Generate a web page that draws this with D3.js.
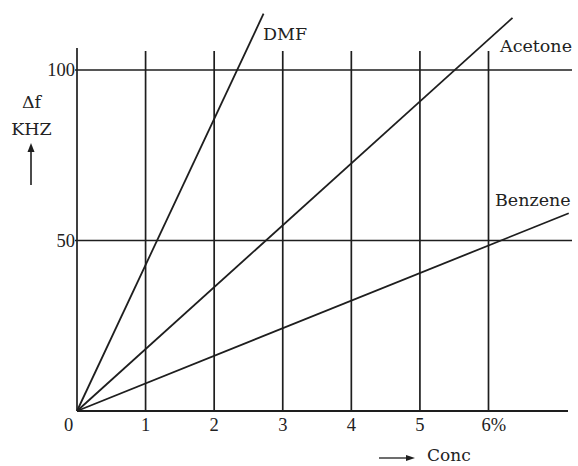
<!DOCTYPE html>
<html>
<head>
<meta charset="utf-8">
<script src="https://cdn.jsdelivr.net/npm/d3@7"></script>
<style>
  body { margin: 0; background: #fff; }
  svg text { font-family: "DejaVu Serif", "Liberation Serif", serif; fill: #222; }
  svg text.num { font-family: "Liberation Serif", "DejaVu Serif", serif; }
</style>
</head>
<body>
<svg id="chart" width="578" height="466"></svg>
<script>
// values
const concTicks = [0, 1, 2, 3, 4, 5, 6];
const concLabels = ['0', '1', '2', '3', '4', '5', '6%'];
const dfTicks = [50, 100];
const solvents = ['DMF', 'Acetone', 'Benzene'];
const dmf = [[0, 0], [2.72, 116.5]];
const acetone = [[0, 0], [6.35, 115.3]];
const benzene = [[0, 0], [7.17, 58]];

const svg = d3.select('#chart');

const x = d3.scaleLinear().domain([0, 6]).range([77, 488.5]);
const y = d3.scaleLinear().domain([0, 100]).range([411, 70]);

const g = svg.append('g');
const ink = '#1e1e1e';

// vertical grid lines (the y axis is the one at 0)
g.selectAll('.vgrid')
    .data(concTicks)
    .enter().append('line')
    .attr('class', 'vgrid')
    .attr('x1', d => x(d)).attr('x2', d => x(d))
    .attr('y1', d => d == 0 ? 48 : 51)
    .attr('y2', y(0))
    .attr('stroke', ink).attr('stroke-width', 1.7);

// horizontal lines at 50 and 100
g.selectAll('.hgrid')
    .data(dfTicks)
    .enter().append('line')
    .attr('class', 'hgrid')
    .attr('x1', x(0) - 2).attr('x2', 572)
    .attr('y1', d => y(d)).attr('y2', d => y(d))
    .attr('stroke', ink).attr('stroke-width', 1.7);

// x axis
g.append('line')
    .attr('x1', x(0)).attr('x2', 568)
    .attr('y1', y(0)).attr('y2', y(0))
    .attr('stroke', ink).attr('stroke-width', 1.9);

// x tick labels
g.selectAll('.xlab')
    .data(concTicks)
    .enter().append('text')
    .attr('class', 'num')
    .attr('x', (d, i) => i == 0 ? x(d) - 8.5 : (i == 6 ? x(d) - 7 : x(d)))
    .attr('y', 431)
    .attr('text-anchor', (d, i) => i == 6 ? 'start' : 'middle')
    .attr('font-size', 18.5)
    .text((d, i) => concLabels[i]);

// y tick labels
g.selectAll('.ylab')
    .data(dfTicks)
    .enter().append('text')
    .attr('class', 'num')
    .attr('x', x(0) - 2)
    .attr('y', d => y(d) + 6)
    .attr('text-anchor', 'end')
    .attr('font-size', 18.5)
    .text(d => d);

// series lines
const line = d3.line().x(d => x(d[0])).y(d => y(d[1]));
const series = [dmf, acetone, benzene];
g.selectAll('.series')
    .data(series)
    .enter().append('path')
    .attr('d', d => line(d))
    .attr('fill', 'none')
    .attr('stroke', ink)
    .attr('stroke-width', 1.8);

// series labels
const labelPos = [[263, 40], [500, 52], [495, 206]];
g.selectAll('.slab')
    .data(solvents)
    .enter().append('text')
    .attr('x', (d, i) => labelPos[i][0])
    .attr('y', (d, i) => labelPos[i][1])
    .attr('font-size', 17.5)
    .text(d => d);

// y axis title
g.append('text').attr('x', 31.5).attr('y', 108).attr('text-anchor', 'middle')
    .attr('font-size', 17.5).text('Δf');
g.append('text').attr('x', 31.5).attr('y', 135).attr('text-anchor', 'middle')
    .attr('font-size', 17.5).text('KHZ');
g.append('line').attr('x1', 31).attr('x2', 31).attr('y1', 185).attr('y2', 150)
    .attr('stroke', ink).attr('stroke-width', 1.6);
g.append('path').attr('d', 'M27.5,152 L31,143 L34.5,152 Z').attr('fill', ink);

// x axis title
g.append('line').attr('x1', 379).attr('x2', 410).attr('y1', 458).attr('y2', 458)
    .attr('stroke', ink).attr('stroke-width', 1.3);
g.append('path').attr('d', 'M406,455 L415,458 L406,461 Z').attr('fill', ink);
g.append('text').attr('x', 427).attr('y', 461).attr('font-size', 17).text('Conc');
</script>
</body>
</html>
